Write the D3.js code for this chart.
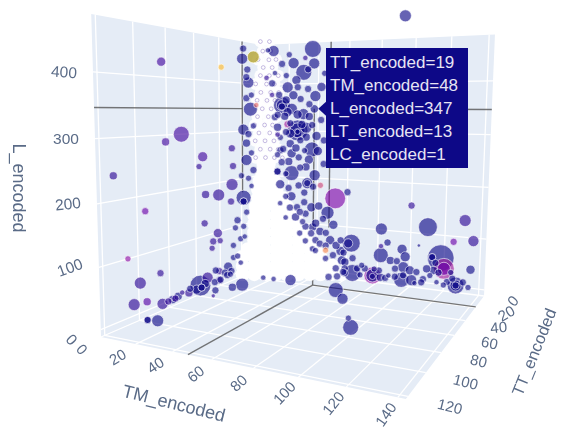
<!DOCTYPE html>
<html>
<head>
<meta charset="utf-8">
<script src="https://cdn.jsdelivr.net/npm/d3@7"></script>
<style>
  html, body { margin: 0; padding: 0; background: #fff; overflow: hidden; }
  svg { display: block; filter: blur(0.6px); font-family: "Liberation Sans", Arial, sans-serif; }
</style>
</head>
<body>
<svg id="svg" width="562" height="428"></svg>
<script>
// tick labels
const tmTicks = [0, 20, 40, 60, 80, 100, 120, 140];
const ttTicks = [0, 20, 40, 60, 80, 100, 120];
const lTicks = [0, 100, 200, 300, 400];
const hovered = { TT_encoded: 19, TM_encoded: 48, L_encoded: 347, LT_encoded: 13, LC_encoded: 1 };

// bubbles
const tmEncoded = [
  0,0,0,0,0,0,0,0,0,0, 0,0,0,0,0,0,0,0,0,0,
  0,0,0,0,0,0,0,0,0,0, 0,0,0,0,0,0,0,0,0,0,
  0,0,10,15,0,0,0,0,0,0, 0,0,0,10,15,15,17,0,
  36,23,37,30,33,31,44,9,5,19, 23,28,15,22,30,38,34,48,26,19,
  12,32,36,14,28,14,27,34,8,10, 4,8,12,12,22,33,38,42,52,60,
  14,22,31,36,47,31,26,51,46,49, 42,37,30,39,56,57,64,58,61,
  100,131,110,82,63,136,125,86,82,105, 95,82,97,118,113,88,120,120,135,77,
  77,96,96,87,91,95,101,104,108,112, 116,120,127,127,127,134,82,78,77,59,
  59,20,27,37,54,58,72,79,94,100, 114,26,26,26,15,15,0,10,0,12,113,33
];
const ttEncoded = [
  83,38,70,81,113,54,57,29,28,29, 52,41,30,95,18,18,18,19,8,8,
  14,13,11,5,18,15,20,24,21,28, 28,33,53,42,46,40,47,86,106,99,
  103,95,105,104,85,81,76,71,66,57, 56,51,41,57,65,49,43,41,
  0,0,0,0,0,0,0,0,0,0, 0,0,0,0,0,0,0,19,0,0,
  0,0,0,0,0,0,0,0,0,0, 0,0,0,0,0,0,0,0,0,0,
  0,0,0,0,0,0,0,0,0,0, 0,0,0,0,0,0,0,0,0,
  0,0,0,0,0,0,0,0,0,0, 0,0,0,0,0,0,0,0,0,0,
  0,0,0,0,0,0,0,3,0,0, 0,0,0,0,0,0,0,0,0,0,
  0,27,27,25,11,8,37,43,67,77, 55,0,0,0,0,0,18,105,56,0,0,0
];
const lEncoded = [
  426,428,300,288,240,255,237,266,229,191, 181,175,156,173,158,150,471,450,457,457,
  429,402,346,355,303,238,206,113,71,62, 36,21,125,98,84,81,71,57,100,52,
  19,15,0,0,0,0,0,6,0,5, 0,15,19,0,0,0,0,0,
  472,444,442,424,430,454,421,471,473,393, 376,368,355,347,336,374,357,347,301,314,
  307,307,261,285,280,257,243,239,402,424, 414,377,291,210,208,188,206,185,159,174,
  182,157,167,136,127,146,134,102,45,68, 85,93,103,65,47,27,2,44,65,
  155,133,114,102,66,94,89,75,66,75, 64,47,49,54,54,38,33,33,37,2,
  2,27,10,6,5,0,2,0,7,16, 4,0,2,2,2,1,0,16,0,10,
  0,0,0,0,0,0,7,0,0,0, 495,301,295,298,355,352,150,0,0,210,54,188
];
const ltEncoded = [
  16,6,56,12,12,20,6,9,9,30, 12,30,9,9,49,9,9,25,30,30,
  9,25,42,4,25,25,6,9,6,6, 6,16,9,16,9,6,6,9,6,30,
  30,12,9,30,25,9,9,4,12,100, 9,25,9,9,2,12,36,9,
  64,25,25,56,9,4,6,25,4,25, 16,9,64,25,25,25,9,13,100,9,
  12,25,49,6,9,9,9,16,9,4, 4,4,4,9,49,25,25,6,100,9,
  16,16,9,16,36,9,9,16,6,16, 12,12,6,9,16,16,64,9,16,
  9,30,81,30,72,25,9,9,4,1, 20,49,20,169,9,12,100,36,16,64,
  36,25,9,4,9,49,25,4,9,6, 4,6,64,25,9,6,12,6,6,9,
  9,4,4,25,9,9,49,25,6,56, 30,49,16,4,25,9,9,9,9,9,9,9
];
const lcEncoded = [
  3,18,3,3,2,3,2,2,2,2, 2,2,2,5,1,1,1,1,1,20,
  1,1,1,13,1,1,1,1,1,1, 1,1,2,2,2,2,2,2,7,2,
  2,4,1,1,2,2,2,2,2,1, 1,2,2,1,2,1,1,2,
  1,1,1,1,1,2,1,1,1,1, 1,1,1,1,1,1,1,1,1,8,
  1,1,1,1,1,1,1,1,1,1, 2,2,2,1,1,1,1,11,6,1,
  1,1,1,1,1,1,1,1,15,1, 1,1,1,1,1,1,1,1,1,
  2,2,1,1,1,2,5,1,2,1, 1,1,1,1,1,1,8,5,1,7,
  1,1,1,1,1,1,1,1,1,1, 1,1,1,1,1,1,1,1,1,1,
  1,1,1,1,1,1,1,1,1,1, 1,1,1,1,1,1,1,1,1,1,1,1
];

// smaller bubbles crowding both flanks of the core and the two arms
const flankTM = [
  0,0,0,0,0,0,0,0,0,0,0,0,0,0,0,0,0,
  15,20,25,18,13,17,10,21,29,36,21,15,22,28,18,42,40,31,44,
  18,14,21,18,25,32,41,44,36,28,32,42,37,51,46,53,59,64,58,
  0,0,0,0,0,0,
  69,72,81,70,91,100,92,104,114,117,124,122,131,
  18,26,33,42,12,19,26,34,21,18,32,39,44,16,25,20,32,12,37,27,20,28,39,46,32,53,46,56,39,
  0,0,0,0,0,
  67,85,110,107,115,125
];
const flankTT = [
  15,10,15,8,13,15,10,8,13,10,15,18,17,26,24,30,21,
  0,0,0,0,0,0,0,0,0,0,0,0,0,0,0,0,0,0,0,
  0,0,0,0,0,0,0,0,0,0,0,0,0,0,0,0,0,0,0,
  78,74,45,36,40,31,
  0,0,0,0,0,0,0,0,0,0,0,0,0,
  0,0,0,0,0,0,0,0,0,0,0,0,0,0,0,0,0,0,0,0,0,0,0,0,0,0,0,0,0,
  60,53,65,44,34,
  0,0,0,0,0,0
];
const flankL = [
  413,376,369,310,293,274,252,214,198,180,125,96,73,98,36,9,19,
  443,462,408,418,377,331,329,316,314,313,272,231,251,221,206,324,258,258,231,
  156,140,132,109,112,121,140,113,79,77,61,58,45,36,27,8,24,34,2,
  0,2,0,11,0,3,
  0,15,14,21,22,22,38,20,27,24,27,7,10,
  366,393,389,393,334,340,335,331,294,297,287,290,281,260,263,233,223,247,181,182,175,124,102,83,93,58,55,70,42,
  0,5,7,23,4,
  13,0,29,0,43,15
];
const flankLT = [
  9,6,9,6,9,12,6,9,6,4,6,6,4,6,6,9,4,
  9,6,16,6,9,12,9,9,12,9,12,9,16,9,6,9,16,6,9,
  6,4,9,4,12,9,12,9,9,6,6,9,6,9,6,9,12,9,9,
  12,12,9,9,9,6,
  6,9,9,6,9,16,9,9,12,9,6,9,9,
  12,9,9,16,9,16,16,12,16,9,12,16,9,9,12,12,12,6,9,9,9,9,12,9,9,12,9,9,6,
  16,12,9,9,9,
  9,9,12,9,9,9
];

// the white mass at the foot of the plot, tiny points packed together
const coreTM = [
  5,11,17,23,29,35,41,47,53,58, 5,11,17,23,29,35,41,47,53, 4,11,17,23,29,35,41,47, 8,11,17,23,29,35,41,47,
  11,17,23,29,35,41, 11,17,23,29,35,40, 11,17,23,29,35, 11,17,23,29,34, 12,17,23,29, 13,18,23,27, 13,18,23, 14,18,22, 15,20, 16,19
];
const coreTT = [
  26,23,21,18,16,13,10,8,5,3, 26,23,21,18,16,13,10,8,5, 25,23,21,18,16,13,10,8, 25,23,21,18,16,13,10,8,
  23,21,18,16,13,10, 23,21,18,16,13,11, 23,21,18,16,13, 23,21,18,16,14, 23,21,18,16, 22,20,18,17, 22,20,18, 22,20,19, 21,20, 21,20
];
const coreL = [
  0,0,0,0,0,0,0,0,0,0, 18,18,18,18,18,18,18,18,18, 36,36,36,36,36,36,36,36, 54,54,54,54,54,54,54,54,
  72,72,72,72,72,72, 90,90,90,90,90,90, 108,108,108,108,108, 126,126,126,126,126, 144,144,144,144, 162,162,162,162, 180,180,180, 198,198,198, 216,216, 234,234
];

// the speckled column above it
const speckTM = [3,8,4,9,2,7,12,5,10,3,8,13,1,6,11,4,9,14,2,7,12,5,10,3,8,13,1,6,11,4,9,14,2,7,12,5,10,15,3,8,13,18];
const speckTT = [5,3,4,3,6,2,2,5,3,5,3,1,7,3,2,6,3,2,7,4,3,6,4,8,4,3,8,5,4,8,4,3,9,6,4,8,5,4,10,7,5,4];
const speckL = [490,490,470,470,452,452,452,435,435,418,418,418,400,400,400,382,382,382,365,365,365,347,347,330,330,330,312,312,312,295,295,295,278,278,278,260,260,260,242,242,242,242];

const svg = d3.select("#svg");

const tmScale = d3.scaleLinear().domain([0, 143]).range([0, 1]);
const ttScale = d3.scaleLinear().domain([0, 122]).range([0, 1]);
const lScale = d3.scaleLinear().domain([-12, 485]).range([0, 1]);
const sizeScale = d3.scaleSqrt().domain([0, 169]).range([0.7, 13.3]);
const colorScale = d3.scaleSequential(d3.interpolatePlasma).domain([1, 21]);

// perspective of the box: where the back corner and the three far ends land, and their depth
const origin = [261, 268], endTM = [484, 296], endTT = [101, 337], endL = [261, 45];
const depth = { tm: 0.854, tt: 0.694, l: 0.96 };

function project(tm, tt, l) {
  const a = tmScale(tm), b = ttScale(tt), c = lScale(l);
  const w = 1 + a * (depth.tm - 1) + b * (depth.tt - 1) + c * (depth.l - 1);
  return [0, 1].map(i => (origin[i]
    + a * (depth.tm * endTM[i] - origin[i])
    + b * (depth.tt * endTT[i] - origin[i])
    + c * (depth.l * endL[i] - origin[i])) / w);
}

const tmMax = tmScale.domain()[1], ttMax = ttScale.domain()[1];
const lMin = lScale.domain()[0], lMax = lScale.domain()[1];
const line = d3.line();

// walls and floor
const walls = [
  [[0, ttMax, lMin], [0, 0, lMin], [0, 0, lMax], [0, ttMax, lMax]],
  [[0, 0, lMin], [tmMax, 0, lMin], [tmMax, 0, lMax], [0, 0, lMax]],
  [[0, ttMax, lMin], [tmMax, ttMax, lMin], [tmMax, 0, lMin], [0, 0, lMin]]
];
svg.append("g").selectAll("path").data(walls).join("path")
  .attr("d", d => line(d.map(p => project(...p))) + "Z")
  .attr("fill", "#e5ecf6");

// grid
const gridLines = [];
tmTicks.forEach(t => {
  gridLines.push([[t, 0, lMin], [t, 0, lMax]]);
  gridLines.push([[t, ttMax, lMin], [t, 0, lMin]]);
});
ttTicks.forEach(t => {
  gridLines.push([[0, t, lMin], [0, t, lMax]]);
  gridLines.push([[0, t, lMin], [tmMax, t, lMin]]);
});
lTicks.forEach(t => {
  gridLines.push([[0, ttMax, t], [0, 0, t]]);
  gridLines.push([[0, 0, t], [tmMax, 0, t]]);
});
svg.append("g").selectAll("path").data(gridLines).join("path")
  .attr("d", d => line(d.map(p => project(...p))))
  .attr("fill", "none")
  .attr("stroke", "#fff")
  .attr("stroke-width", 1.3);

// spike lines of the hovered point
const hm = hovered.TM_encoded, ht = hovered.TT_encoded, hl = hovered.L_encoded;
const spikes = [
  [[0, ttMax, hl], [0, ht, hl]],
  [[0, ht, 170], [0, ht, lMax]],
  [[tmMax, 0, hl], [hm, 0, hl]],
  [[hm, 0, 95], [hm, 0, lMax]],
  [[hm, ttMax, lMin], [hm, ht, lMin]],
  [[tmMax, ht, lMin], [hm, ht, lMin]],
  [[hm, ht, lMin], [hm, ht, hl]]
];
svg.append("g").selectAll("path").data(spikes).join("path")
  .attr("d", d => line(d.map(p => project(...p))))
  .attr("fill", "none")
  .attr("stroke", "#555")
  .attr("stroke-opacity", 0.8)
  .attr("stroke-width", 1.4);

// white mass
svg.append("g").selectAll("circle").data(d3.range(coreTM.length)).join("circle")
  .attr("cx", i => project(coreTM[i], coreTT[i], coreL[i])[0])
  .attr("cy", i => project(coreTM[i], coreTT[i], coreL[i])[1])
  .attr("r", 7)
  .attr("fill", "#fff");

// speckles
const speck = svg.append("g");
speck.selectAll("circle.halo").data(d3.range(speckTM.length)).join("circle")
  .attr("class", "halo")
  .attr("cx", i => project(speckTM[i], speckTT[i], speckL[i])[0])
  .attr("cy", i => project(speckTM[i], speckTT[i], speckL[i])[1])
  .attr("r", 6)
  .attr("fill", "#fff")
  .attr("fill-opacity", 0.9);
speck.selectAll("circle.dot").data(d3.range(speckTM.length)).join("circle")
  .attr("class", "dot")
  .attr("cx", i => project(speckTM[i], speckTT[i], speckL[i])[0])
  .attr("cy", i => project(speckTM[i], speckTT[i], speckL[i])[1])
  .attr("r", 1.9)
  .attr("fill", "none")
  .attr("stroke", colorScale(2))
  .attr("stroke-opacity", 0.25)
  .attr("stroke-width", 1);

// bubbles, big ones first so the small ones stay visible
const allTM = tmEncoded.concat(flankTM), allTT = ttEncoded.concat(flankTT);
const allL = lEncoded.concat(flankL), allLT = ltEncoded.concat(flankLT);
const allLC = lcEncoded.concat(flankTM.map(() => 1));
const order = d3.range(allTM.length).sort((a, b) => d3.descending(allLT[a], allLT[b]));
svg.append("g").selectAll("circle").data(order).join("circle")
  .attr("cx", i => project(allTM[i], allTT[i], allL[i])[0])
  .attr("cy", i => project(allTM[i], allTT[i], allL[i])[1])
  .attr("r", i => sizeScale(allLT[i]))
  .attr("fill", i => colorScale(allLC[i]))
  .attr("fill-opacity", 0.63)
  .attr("stroke", "#fff")
  .attr("stroke-opacity", 0.75)
  .attr("stroke-width", 0.8);

// tick labels
const labelColor = "#5a6b87";
const tmAngle = d3.scaleLinear().domain([20, 140]).range([-30, -55]);
const ttAngle = d3.scaleLinear().domain([0, 20, 40, 60, 80, 120]).range([-50, -30, -5, 12, 14, 14]);
const lAngle = d3.scaleLinear().domain([0, 100, 200, 300, 400]).range([48, -20, -6, 0, 4]);
const tmOffsetX = d3.scaleLinear().domain([20, 140]).range([-18, -12]);
const tmOffsetY = d3.scaleLinear().domain([20, 140]).range([13, 17]);
const ttOffsetX = d3.scaleLinear().domain([0, 120]).range([29, 42]);
const ttOffsetY = d3.scaleLinear().domain([0, 120]).range([5, 10]);

function tickLabels(values, place, angle, size) {
  svg.append("g").selectAll("text").data(values).join("text")
    .attr("transform", d => {
      const [x, y] = place(d);
      return `translate(${x},${y}) rotate(${angle(d)})`;
    })
    .attr("text-anchor", "middle")
    .attr("dy", "0.35em")
    .attr("font-size", size)
    .attr("fill", labelColor)
    .text(d => d);
}

tickLabels(tmTicks, d => {
  const [x, y] = project(d, ttMax, lMin);
  return [x + tmOffsetX(d), y + tmOffsetY(d)];
}, d => d === 0 ? 48 : tmAngle(d), 15);
tickLabels(ttTicks, d => {
  const [x, y] = project(tmMax, d, lMin);
  return [x + ttOffsetX(d), y + ttOffsetY(d)];
}, ttAngle, 15);
tickLabels(lTicks, d => {
  const [x, y] = project(0, ttMax, d);
  return [x - 29, y + (d === 0 ? 10 : 0)];
}, lAngle, 15.5);

// axis titles
const titles = [
  { text: "L_encoded", x: 19, y: 188, angle: 90, size: 18 },
  { text: "TM_encoded", x: 174, y: 403, angle: 14, size: 18 },
  { text: "TT_encoded", x: 534, y: 352, angle: -68, size: 16.5 }
];
svg.append("g").selectAll("text").data(titles).join("text")
  .attr("transform", d => `translate(${d.x},${d.y}) rotate(${d.angle})`)
  .attr("text-anchor", "middle")
  .attr("dy", "0.35em")
  .attr("font-size", d => d.size)
  .attr("fill", labelColor)
  .text(d => d.text);

// hover box
const tip = project(hm, ht, hl);
const tipBox = { x: 326, y: 48, width: 142, height: 120 };
const tipG = svg.append("g");
tipG.append("path")
  .attr("d", line([[tipBox.x, tip[1] - 7], [tip[0] + 4, tip[1]], [tipBox.x, tip[1] + 7]]) + "Z")
  .attr("fill", colorScale(1));
tipG.append("rect")
  .attr("x", tipBox.x).attr("y", tipBox.y)
  .attr("width", tipBox.width).attr("height", tipBox.height)
  .attr("fill", colorScale(1));
tipG.selectAll("text").data(Object.entries(hovered)).join("text")
  .attr("x", tipBox.x + 4)
  .attr("y", (d, i) => tipBox.y + 20 + i * 23)
  .attr("font-size", 17)
  .attr("fill", "#e6e3f3")
  .text(d => `${d[0]}=${d[1]}`);
</script>
</body>
</html>
